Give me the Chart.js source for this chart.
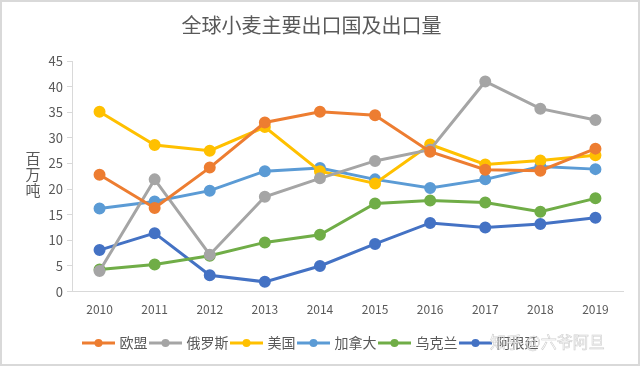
<!DOCTYPE html>
<html>
<head>
<meta charset="utf-8">
<script src="https://cdn.jsdelivr.net/npm/chart.js@4"></script>
<style>
  body { margin: 0; background: #fff; }
  canvas { display: block; }
</style>
</head>
<body>
<canvas id="chart" width="640" height="366"></canvas>
<script>
// Năm và số liệu (triệu tấn)
const years = ["2010", "2011", "2012", "2013", "2014", "2015", "2016", "2017", "2018", "2019"];
const eu = [22.8, 16.3, 24.2, 33.0, 35.1, 34.4, 27.3, 23.8, 23.6, 27.9];
const russia = [4.0, 21.9, 7.2, 18.5, 22.1, 25.5, 27.7, 41.0, 35.7, 33.5];
const usa = [35.1, 28.6, 27.5, 32.1, 23.5, 21.1, 28.7, 24.8, 25.6, 26.6];
const canada = [16.2, 17.6, 19.7, 23.5, 24.1, 21.9, 20.2, 21.9, 24.4, 23.9];
const ukraine = [4.3, 5.3, 7.0, 9.6, 11.1, 17.2, 17.8, 17.4, 15.6, 18.2];
const argentina = [8.1, 11.4, 3.2, 1.9, 5.0, 9.3, 13.4, 12.5, 13.2, 14.4];
const yTicks = [0, 5, 10, 15, 20, 25, 30, 35, 40, 45];

const seriesNames = ["欧盟", "俄罗斯", "美国", "加拿大", "乌克兰", "阿根廷"];
const seriesData = [eu, russia, usa, canada, ukraine, argentina];
const colors = ["#ED7D31", "#A5A5A5", "#FFC000", "#5B9BD5", "#70AD47", "#4472C4"];

const FONT = "'Noto Sans CJK SC', 'Noto Sans', sans-serif";
const GRAY = "#595959";

// Biểu tượng chú thích: đường + chấm tròn
function legendIcon(color) {
  const c = document.createElement("canvas");
  c.width = 33; c.height = 10;
  const g = c.getContext("2d");
  g.strokeStyle = color; g.lineWidth = 3;
  g.beginPath(); g.moveTo(0, 5); g.lineTo(33, 5); g.stroke();
  g.fillStyle = color;
  g.beginPath(); g.arc(16.5, 5, 4, 0, Math.PI * 2); g.fill();
  return c;
}

// Nhãn trục Y viết dọc + khung viền + watermark
const extras = {
  id: "extras",
  afterDraw(chart) {
    const ctx = chart.ctx;
    ctx.save();
    ctx.fillStyle = GRAY;
    ctx.font = "15px " + FONT;
    ctx.textAlign = "center";
    ctx.textBaseline = "middle";
    ["百", "万", "吨"].forEach((ch, i) => ctx.fillText(ch, 33, 158 + i * 16));
    ctx.fillStyle = "rgba(255,255,255,0.75)";
    ctx.font = "16px " + FONT;
    ctx.textAlign = "left";
    ctx.fillText("知乎 @六爷阿旦", 490, 342);
    ctx.strokeStyle = "rgba(160,160,160,0.5)";
    ctx.lineWidth = 0.6;
    ctx.strokeText("知乎 @六爷阿旦", 490, 342);
    ctx.strokeStyle = "#d9d9d9";
    ctx.lineWidth = 2;
    ctx.strokeRect(1, 1, 638, 364);
    ctx.restore();
  }
};

const ctx = document.getElementById("chart").getContext("2d");
const chart = new Chart(ctx, {
  type: "line",
  data: {
    labels: years,
    datasets: seriesNames.map((name, i) => ({
      label: name,
      data: seriesData[i],
      borderColor: colors[i],
      backgroundColor: colors[i],
      pointBackgroundColor: colors[i],
      pointBorderColor: colors[i],
      borderWidth: 3,
      pointRadius: 4.5,
      pointStyle: "circle",
      tension: 0,
    })),
  },
  options: {
    responsive: false,
    animation: false,
    layout: { padding: { left: 0, right: 17, top: 0, bottom: 6 } },
    plugins: {
      title: {
        display: true,
        text: "全球小麦主要出口国及出口量",
        color: GRAY,
        font: { size: 20, family: FONT, weight: "normal" },
        padding: { top: 13, bottom: 24 },
      },
      legend: {
        position: "bottom",
        labels: {
          usePointStyle: true,
          pointStyleWidth: 28,
          color: GRAY,
          font: { size: 14, family: FONT },
          padding: 4,
          generateLabels: (c) => c.data.datasets.map((ds, i) => ({
            text: ds.label,
            pointStyle: legendIcon(colors[i]),
            fillStyle: colors[i],
            strokeStyle: colors[i],
            lineWidth: 0,
            fontColor: GRAY,
            datasetIndex: i,
          })),
        },
      },
      tooltip: { enabled: false },
    },
    scales: {
      x: {
        offset: true,
        grid: { display: false },
        border: { display: true, color: "#d9d9d9", width: 1 },
        ticks: { color: GRAY, font: { size: 12, family: FONT }, padding: 3, maxRotation: 0 },
        afterFit: (s) => { s.height += 12; },
      },
      y: {
        min: 0,
        max: 45,
        afterFit: (s) => { s.width = 72; },
        afterBuildTicks: (s) => { s.ticks = yTicks.map((v) => ({ value: v })); },
        grid: { drawOnChartArea: false, drawTicks: true, tickLength: 5, color: "#d9d9d9" },
        border: { display: true, color: "#d9d9d9", width: 1 },
        ticks: { color: GRAY, font: { size: 13, family: FONT }, padding: 4 },
      },
    },
  },
  plugins: [extras],
});
</script>
</body>
</html>
